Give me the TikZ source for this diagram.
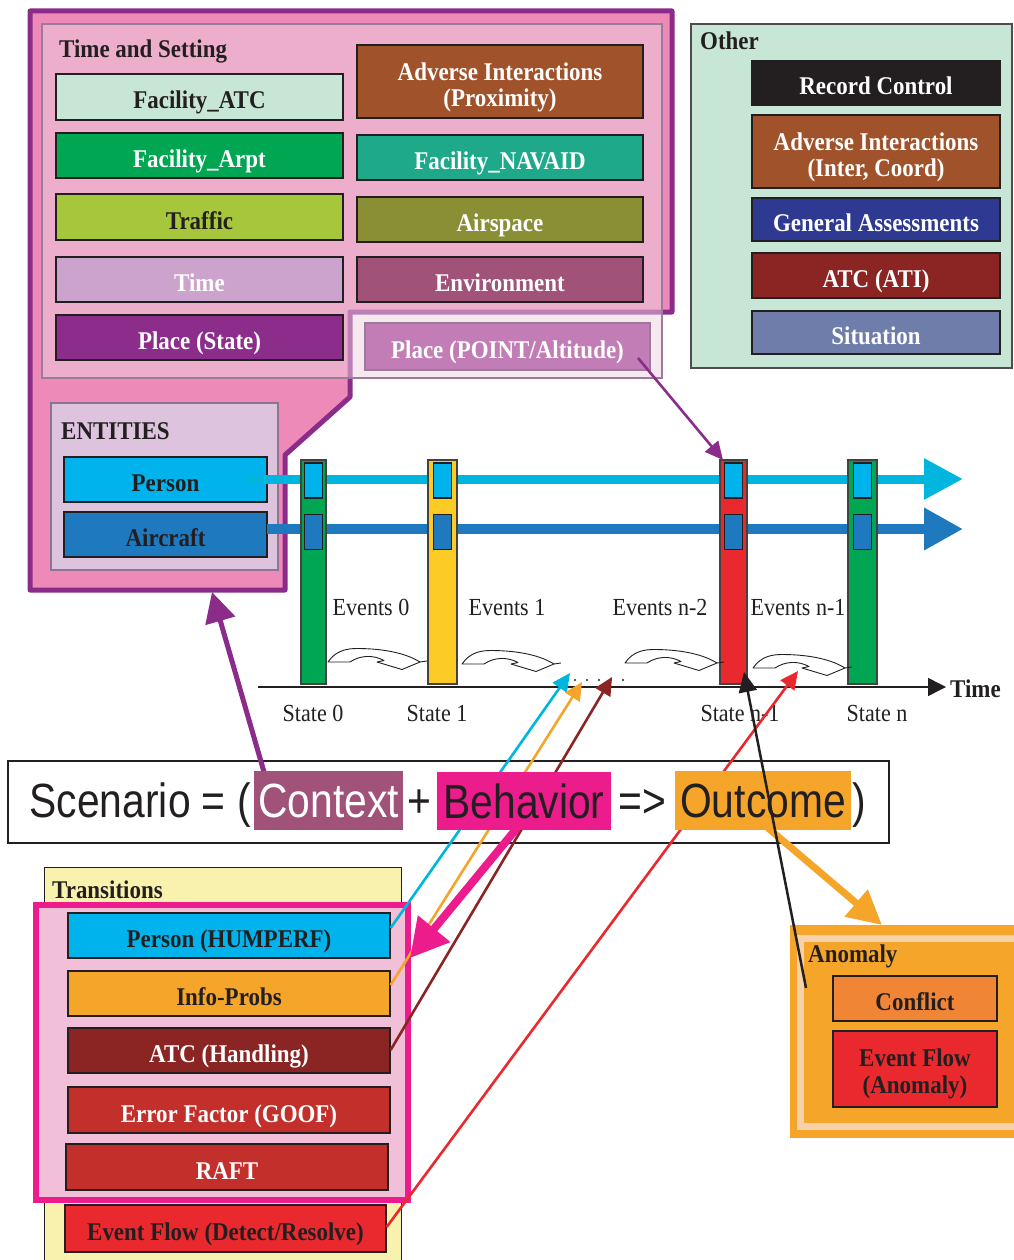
\documentclass[tikz,border=0pt]{standalone}
\usepackage{fontspec}
\setmainfont{Liberation Serif}[FakeStretch=0.9]
\newfontfamily\hvfont{Liberation Sans}[FakeStretch=0.85]
\usetikzlibrary{arrows.meta}
\definecolor{ink}{HTML}{231F20}
\definecolor{ctxpink}{HTML}{EE8AB8}
\definecolor{ctxpurple}{HTML}{8B2C8B}
\definecolor{tsfill}{HTML}{EBD3DF}
\definecolor{tsborder}{HTML}{9C7A9C}
\definecolor{mint}{HTML}{C8E6D5}
\definecolor{grn}{HTML}{00A651}
\definecolor{teal}{HTML}{1EAA8A}
\definecolor{lime}{HTML}{A6C63C}
\definecolor{olive}{HTML}{8A8F36}
\definecolor{lilac}{HTML}{CBA3CC}
\definecolor{mauve}{HTML}{A05279}
\definecolor{plum}{HTML}{8C2D8C}
\definecolor{sienna}{HTML}{A0522B}
\definecolor{placept}{HTML}{C27DB7}
\definecolor{navy}{HTML}{2E3A92}
\definecolor{darkred}{HTML}{8B2524}
\definecolor{slate}{HTML}{6E7DAA}
\definecolor{otherbg}{HTML}{C8E6D6}
\definecolor{entbg}{HTML}{DDC3DE}
\definecolor{entborder}{HTML}{8E7490}
\definecolor{pblue}{HTML}{00B3EC}
\definecolor{ablue}{HTML}{1F79BE}
\definecolor{pline}{HTML}{00B5DE}
\definecolor{yel}{HTML}{FCCB25}
\definecolor{rd}{HTML}{E9292E}
\definecolor{magenta}{HTML}{EC1C8D}
\definecolor{orng}{HTML}{F4A52A}
\definecolor{transbg}{HTML}{F8F2AE}
\definecolor{behavbg}{HTML}{F2BFD9}
\definecolor{errred}{HTML}{C3302C}
\definecolor{conflict}{HTML}{F08536}
\definecolor{anoinner}{HTML}{F6D1A9}
\newcommand\bxf{\fontsize{25.5}{26}\selectfont\bfseries}
\newcommand\lbf{\fontsize{25.5}{27}\selectfont\bfseries}
\newcommand\rmf{\fontsize{24.5}{26}\selectfont}
\newcommand\scf{\hvfont\fontsize{48}{50}\selectfont}
\begin{document}
\begin{tikzpicture}[x=1pt,y=-1pt,
  bx/.style={draw=ink, line width=1.3pt, inner sep=0pt, font=\bxf, text=white, text height=24pt, text depth=0pt},
  bxt/.style={font=\bxf, inner sep=0pt, anchor=base},
  dk/.style={text=ink},
  lbl/.style={font=\lbf, text=ink, anchor=base west, inner sep=0pt},
  evl/.style={font=\rmf, text=ink, anchor=base, inner sep=0pt},
  bar/.style={draw=ink!85, line width=1.3pt, inner sep=0pt, minimum height=224pt},
  sq/.style={draw=ink, line width=1.3pt, inner sep=0pt, minimum width=18pt, minimum height=35pt},
  curvarrow/.style={draw=ink, fill=white, line width=0.9pt, line join=round},
  hl/.style={inner sep=0pt, font=\scf},
  thin/.style={line width=2.6pt, -{Triangle[length=18pt,width=17pt]}},
]
\useasboundingbox (0,0) rectangle (1013,1260);

% ---------- Context frame ----------
\draw[fill=ctxpink, draw=ctxpurple, line width=5pt, line join=round]
  (30,11) -- (672,11) -- (672,312) -- (350,312) -- (350,397) -- (285,455) -- (285,590) -- (30,590) -- cycle;
\coordinate (ctxfoot) at (212,592);

% Time and setting box (semi-transparent)
\node[draw=tsborder, line width=1.2pt, fill=tsfill, fill opacity=0.5, minimum width=620pt, minimum height=354pt, inner sep=0pt] (ts) at (352,201) {};
\node[lbl] (tslbl) at (59,58) {Time and Setting};

\node[bx, dk, fill=mint, minimum width=287pt, minimum height=46pt] (fatc) at (199.5,97) {Facility\_ATC};
\node[bx, fill=grn, minimum width=287pt, minimum height=45pt] (farpt) at (199.5,155.5) {Facility\_Arpt};
\node[bx, dk, fill=lime, minimum width=287pt, minimum height=46pt] (traffic) at (199.5,217) {Traffic};
\node[bx, fill=lilac, minimum width=287pt, minimum height=45pt] (time) at (199.5,279.5) {Time};
\node[bx, fill=plum, minimum width=287pt, minimum height=45pt] (pstate) at (199.5,337.5) {Place (State)};

\node[bx, fill=sienna, minimum width=286pt, minimum height=73pt] (advp) at (500,81.5) {};
\node[bxt, text=white] (advp1) at (500,80.5) {Adverse Interactions};
\node[bxt, text=white] (advp2) at (500,106.5) {(Proximity)};
\node[bx, fill=teal, minimum width=286pt, minimum height=45pt] (navaid) at (500,157.5) {Facility\_NAVAID};
\node[bx, fill=olive, minimum width=286pt, minimum height=45pt] (airspace) at (500,219.5) {Airspace};
\node[bx, fill=mauve, minimum width=286pt, minimum height=45pt] (env) at (500,279.5) {Environment};
\node[bx, draw=tsborder, fill=placept, minimum width=285pt, minimum height=47pt] (ppoint) at (507.5,346.5) {Place (POINT/Altitude)};

% Entities
\node[draw=entborder, line width=1.2pt, fill=entbg, minimum width=227pt, minimum height=167pt, inner sep=0pt] (ent) at (164.5,486.5) {};
\node[lbl] (entlbl) at (61,439) {ENTITIES};
\node[bx, dk, fill=pblue, minimum width=203pt, minimum height=45pt] (person) at (165.5,479.5) {Person};
\node[bx, dk, fill=ablue, minimum width=203pt, minimum height=45pt] (aircraft) at (165.5,534.5) {Aircraft};

% ---------- Other ----------
\node[draw=ink!80, line width=1.3pt, fill=otherbg, minimum width=321pt, minimum height=344pt, inner sep=0pt] (other) at (851.5,196) {};
\node[lbl] (otherlbl) at (700,50) {Other};
\node[bx, fill=ink, minimum width=248pt, minimum height=44pt] (rec) at (876,83) {Record Control};
\node[bx, fill=sienna, minimum width=248pt, minimum height=73pt] (advic) at (876,151.5) {};
\node[bxt, text=white] (advic1) at (876,150.5) {Adverse Interactions};
\node[bxt, text=white] (advic2) at (876,176.5) {(Inter, Coord)};
\node[bx, fill=navy, minimum width=248pt, minimum height=43pt] (genass) at (876,219.5) {General Assessments};
\node[bx, fill=darkred, minimum width=248pt, minimum height=45pt] (atcati) at (876,275.5) {ATC (ATI)};
\node[bx, fill=slate, minimum width=248pt, minimum height=43pt] (situ) at (876,332.5) {Situation};

% ---------- Timelines ----------
\coordinate (pl0) at (245,479);
\coordinate (pl1) at (963,479);
\coordinate (al0) at (267,529);
\coordinate (al1) at (963,529);
\draw[pline, line width=9pt, -{Triangle[length=39pt,width=39pt]}] (pl0) -- (pl1);
\draw[ablue, line width=10pt, -{Triangle[length=39pt,width=40pt]}] (al0) -- (al1);

% bars
\node[bar, fill=grn, minimum width=25pt] (st0) at (313.5,572) {};
\node[bar, fill=yel, minimum width=29pt] (st1) at (442.5,572) {};
\node[bar, fill=rd, minimum width=27pt] (stn1) at (733.5,572) {};
\node[bar, fill=grn, minimum width=29pt] (stn) at (862.5,572) {};
\foreach \n/\x in {0/313.5, 1/442.5, n1/733.5, n/862.5}{
  \node[sq, fill=pblue] (sp\n) at (\x,480.5) {};
  \node[sq, fill=ablue] (sa\n) at (\x,532) {};
}

% time axis
\coordinate (ax0) at (258,687);
\coordinate (ax1) at (946,687);
\draw[ink, line width=1.5pt, -{Triangle[length=18pt,width=18pt]}] (ax0) -- (ax1);
\node[font=\lbf, text=ink, anchor=base west, inner sep=0pt] (timelbl) at (950,697) {Time};

% labels
\node[evl] (ev0) at (371,615) {Events 0};
\node[evl] (ev1) at (507,615) {Events 1};
\node[evl] (evn2) at (660,615) {Events n-2};
\node[evl] (evn1) at (798,615) {Events n-1};
\node[evl] (sl0) at (313,721) {State 0};
\node[evl] (sl1) at (437,721) {State 1};
\node[evl] (sln1) at (740,721) {State n-1};
\node[evl] (sln) at (877,721) {State n};

% curved arrows
\foreach \x/\y in {328/662, 462/664, 625/663, 753/668}{
  \draw[curvarrow, shift={(\x,\y)}, yscale=1.5] (0,0) .. controls (8,-8) and (20,-9) .. (29,-9)
     .. controls (50,-9) and (75,-7) .. (92,0) -- (74,5) -- (49,0) -- (56,-1)
     .. controls (45,-5) and (32,-4.5) .. (22,0) -- cycle;
  \draw[ink, line width=0.9pt, shift={(\x,\y)}] (92,0) -- (99,-1);
}
% dots
\foreach \x in {575,587,599,611,623}{ \fill[ink] (\x,680) circle (1.2pt); }
\coordinate (dotc) at (570,673);
\coordinate (doto) at (582,682);
\coordinate (dotb) at (612,677);
\coordinate (evr) at (798,671);
\coordinate (sn1b) at (744,672);

% ---------- Scenario ----------
\node[draw=ink, line width=1.5pt, fill=white, minimum width=881pt, minimum height=82pt, inner sep=0pt] (scen) at (448.5,802) {};
\node[font=\scf, text=ink, anchor=base east, inner sep=0pt] (scl) at (251,817) {Scenario = (};
\node[font=\scf, text=ink, anchor=base, inner sep=0pt] (plus) at (419,817) {+};
\node[font=\scf, text=ink, anchor=base, inner sep=0pt] (implies) at (642,817) {=>};
\node[font=\scf, text=ink, anchor=base west, inner sep=0pt] (rpar) at (852,817) {)};

% ---------- Transitions ----------
\node[draw=ink, line width=1.3pt, fill=transbg, minimum width=357pt, minimum height=400pt, inner sep=0pt, anchor=north west] (trans) at (44,867) {};
\node[lbl] (translbl) at (52,898) {Transitions};
\node[draw=magenta, line width=6.5pt, fill=behavbg, minimum width=372pt, minimum height=295pt, inner sep=0pt] (behav) at (222,1052.5) {};
\node[bx, dk, fill=pblue, minimum width=322pt, minimum height=45pt] (humperf) at (229,935.5) {Person (HUMPERF)};
\node[bx, dk, fill=orng, minimum width=322pt, minimum height=45pt] (info) at (229,993.5) {Info-Probs};
\node[bx, fill=darkred, minimum width=322pt, minimum height=45pt] (atch) at (229,1050.5) {ATC (Handling)};
\node[bx, fill=errred, minimum width=322pt, minimum height=46pt] (goof) at (229,1110) {Error Factor (GOOF)};
\node[bx, fill=errred, minimum width=322pt, minimum height=46pt] (raft) at (227,1167) {RAFT};
\node[bx, dk, fill=rd, minimum width=321pt, minimum height=47pt] (evflow) at (225.5,1228.5) {Event Flow (Detect/Resolve)};

% ---------- Anomaly ----------
\node[fill=orng, minimum width=240pt, minimum height=213pt, inner sep=0pt, anchor=north west] (anom) at (790,925) {};
\draw[anoinner, line width=7pt] (1025,938) -- (800,938) -- (800,1126) -- (1025,1126);
\node[lbl] (anomlbl) at (808,962) {Anomaly};
\node[bx, dk, fill=conflict, minimum width=164pt, minimum height=45pt] (confl) at (915,998.5) {Conflict};
\node[bx, fill=rd, minimum width=164pt, minimum height=76pt] (efa) at (915,1069) {};
\node[bxt, text=ink] (efa1) at (915,1066.5) {Event Flow};
\node[bxt, text=ink] (efa2) at (915,1093) {(Anomaly)};
\coordinate (anomin) at (806,988);

% ---------- connectors ----------
\coordinate (ctxstart) at (264,772);
\coordinate (ppstart) at (638,358);
\coordinate (sn1top) at (723,460);
\coordinate (behstart) at (517,828);
\coordinate (behtip) at (410,958);
\coordinate (outstart) at (768,828);
\coordinate (anomtop) at (882,925);

\draw[ctxpurple, line width=5pt, -{Triangle[length=30pt,width=30pt]}] (ctxstart) -- (ctxfoot);
\draw[ctxpurple, thin] (ppstart) -- (sn1top);
\draw[pline, thin] (humperf.east |- 0,928) -- (dotc);
\draw[orng, thin] (info.east |- 0,985) -- (doto);
\draw[darkred, thin] (atch.east |- 0,1050) -- (dotb);
\draw[rd, thin] (evflow.east |- 0,1227) -- (evr);
\draw[magenta, line width=8pt, -{Triangle[length=38pt,width=40pt]}] (behstart) -- (behtip);
\draw[orng, line width=7pt, -{Triangle[length=34pt,width=34pt]}] (outstart) -- (anomtop);

% highlights
\node[hl, fill=mauve, text=white, minimum width=149pt, minimum height=59pt] (ctxhl) at (328.5,800.5) {Context};
\node[hl, fill=magenta, text=ink, minimum width=174pt, minimum height=58pt] (behhl) at (524,801) {Behavior};
\node[hl, fill=orng, text=ink, minimum width=176pt, minimum height=59pt] (outhl) at (763,800.5) {Outcome};

\draw[ink, line width=2.5pt, -{Triangle[length=20pt,width=18pt]}] (anomin) -- (sn1b);
\end{tikzpicture}
\end{document}
